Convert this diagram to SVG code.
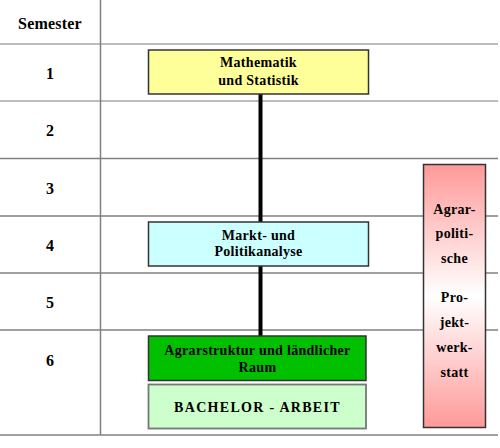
<svg xmlns="http://www.w3.org/2000/svg" width="500" height="448" viewBox="0 0 500 448">
<style>
text{font-family:"Liberation Serif","Times New Roman",serif;font-weight:bold;fill:#000;text-anchor:middle}
.sem{font-size:16px}
.lbl{font-size:14px;letter-spacing:0.3px}
.grid{stroke:#808080;stroke-width:1.5;fill:none}
.gridl{stroke:#bdbdbd;stroke-width:2;fill:none}
.box{stroke:#333;stroke-width:1.5}
</style>
<defs>
<linearGradient id="pink" x1="0" y1="0" x2="0" y2="1">
<stop offset="0" stop-color="#FF9999"/>
<stop offset="0.5" stop-color="#FFFFFF"/>
<stop offset="1" stop-color="#FF9999"/>
</linearGradient>
</defs>
<rect width="500" height="448" fill="#fff"/>
<g id="table">
<line class="gridl" x1="0" y1="44" x2="498" y2="44"/>
<line class="gridl" x1="0" y1="101" x2="498" y2="101"/>
<line class="grid" x1="0" y1="158.5" x2="498" y2="158.5"/>
<line class="grid" x1="0" y1="216" x2="498" y2="216"/>
<line class="grid" x1="0" y1="273" x2="498" y2="273"/>
<line class="grid" x1="0" y1="330" x2="498" y2="330"/>
<line class="grid" x1="0" y1="435" x2="498" y2="435"/>
<line class="grid" x1="100.5" y1="0" x2="100.5" y2="435"/>
<text class="sem" x="50" y="28.5" style="letter-spacing:0.2px">Semester</text>
<text class="sem" x="50" y="79">1</text>
<text class="sem" x="50" y="136">2</text>
<text class="sem" x="50" y="194">3</text>
<text class="sem" x="50" y="251">4</text>
<text class="sem" x="50" y="308">5</text>
<text class="sem" x="50" y="366">6</text>
</g>
<g id="connectors">
<line x1="260.5" y1="94" x2="260.5" y2="222" stroke="#000" stroke-width="4"/>
<line x1="260.5" y1="266" x2="260.5" y2="336" stroke="#000" stroke-width="4"/>
</g>
<g id="mathematik">
<rect class="box" x="148.5" y="50" width="220" height="44" fill="#FFFF99"/>
<text class="lbl" x="258.5" y="66.5">Mathematik</text>
<text class="lbl" x="258.5" y="84.5">und Statistik</text>
</g>
<g id="markt">
<rect class="box" x="148.5" y="222" width="220" height="44" fill="#CCFFFF"/>
<text class="lbl" x="258.5" y="240">Markt- und</text>
<text class="lbl" x="258.5" y="256">Politikanalyse</text>
</g>
<g id="agrarstruktur">
<rect class="box" x="148.5" y="336" width="217.5" height="44.5" fill="#00C000"/>
<text class="lbl" x="257.5" y="355">Agrarstruktur und ländlicher</text>
<text class="lbl" x="257.5" y="371.5">Raum</text>
</g>
<g id="bachelor">
<rect x="148.5" y="384.5" width="217.5" height="44" fill="#CCFFCC" stroke="#777" stroke-width="1.8"/>
<text x="257.5" y="412" style="font-size:14px;letter-spacing:1.3px">BACHELOR - ARBEIT</text>
</g>
<g id="projektwerkstatt">
<rect class="box" x="423.5" y="164.5" width="62" height="263" fill="url(#pink)"/>
<text class="lbl" x="454.5" y="213.5">Agrar-</text>
<text class="lbl" x="454.5" y="238">politi-</text>
<text class="lbl" x="454.5" y="263">sche</text>
<text class="lbl" x="454.5" y="301.5">Pro-</text>
<text class="lbl" x="454.5" y="326.5">jekt-</text>
<text class="lbl" x="454.5" y="351.5">werk-</text>
<text class="lbl" x="454.5" y="377">statt</text>
</g>
</svg>
